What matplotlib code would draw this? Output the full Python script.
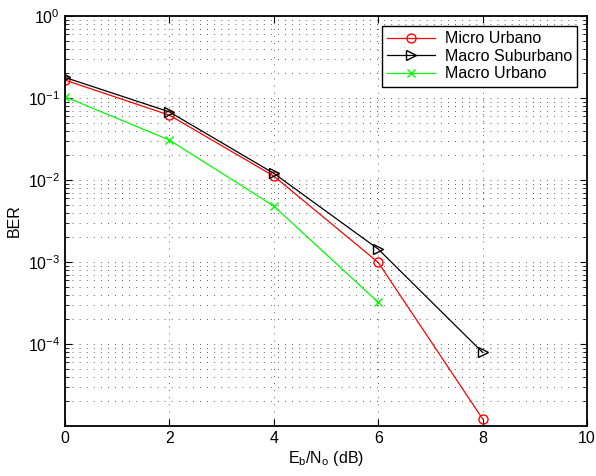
#!/usr/bin/env python3
"""BER vs Eb/No for three channel scenarios (MATLAB-style semilogy)."""

import matplotlib
matplotlib.use("Agg")
import matplotlib.pyplot as plt
from matplotlib.ticker import LogLocator, NullFormatter

plt.rcParams["font.family"] = ["Liberation Sans", "DejaVu Sans"]
plt.rcParams["mathtext.default"] = "regular"

# ---------------------------------------------------------------------------
# Data
# ---------------------------------------------------------------------------
EBNO = [0, 2, 4, 6, 8]
EBNO_GREEN = [0, 2, 4, 6]

BER_MICRO_URBANO = [0.166, 0.062, 0.0112, 0.00099, 1.22e-5]
BER_MACRO_SUBURBANO = [0.179, 0.068, 0.0121, 0.00144, 7.9e-5]
BER_MACRO_URBANO = [0.104, 0.0308, 0.00482, 0.000323]

LABELS = ["Micro Urbano", "Macro Suburbano", "Macro Urbano"]
XTICKS = [0, 2, 4, 6, 8, 10]
YTICKS = [1e0, 1e-1, 1e-2, 1e-3, 1e-4]

FS = 11.5
GRID_STYLE = dict(linestyle=(0, (1, 7.5)), color="black", linewidth=0.6,
                  alpha=0.85)

fig = plt.figure(figsize=(5.96, 4.76), dpi=100)
ax = fig.add_axes([0.109, 0.105, 0.876, 0.861])

ax.semilogy(EBNO, BER_MICRO_URBANO, color="#ff0000", marker="o",
            markerfacecolor="none", markersize=6.5, linewidth=0.9,
            label=LABELS[0])
ax.semilogy(EBNO, BER_MACRO_SUBURBANO, color="black", marker=">",
            markerfacecolor="none", markersize=7, linewidth=0.9,
            label=LABELS[1])
ax.semilogy(EBNO_GREEN, BER_MACRO_URBANO, color="#00ff00", marker="x",
            markersize=6, linewidth=0.9, label=LABELS[2])

ax.set_xlim(0, 10)
ax.set_ylim(1e-5, 1)
ax.set_xticks(XTICKS)
ax.set_yticks(YTICKS)
ax.yaxis.set_minor_locator(LogLocator(base=10, subs=range(2, 10), numticks=20))
ax.yaxis.set_minor_formatter(NullFormatter())

ax.grid(True, which="major", **GRID_STYLE)
ax.grid(True, which="minor", axis="y", **GRID_STYLE)

ax.tick_params(which="both", direction="in", top=True, right=True,
               labelsize=FS)
ax.tick_params(which="major", length=5, width=0.8)
ax.tick_params(which="minor", length=3, width=0.6)
for s in ax.spines.values():
    s.set_linewidth(1.3)

ax.set_xlabel(r"E$_{b}$/N$_{o}$ (dB)", fontsize=FS, labelpad=2)
ax.set_ylabel("BER", fontsize=FS, labelpad=4)

leg = ax.legend(loc="upper right", fontsize=FS, handlelength=3.0,
                fancybox=False, framealpha=1, edgecolor="black",
                borderaxespad=0.6, labelspacing=0.15, borderpad=0.35,
                handletextpad=0.6)
leg.get_frame().set_linewidth(1.0)

fig.savefig("out.png", dpi=100)
plt.close(fig)
